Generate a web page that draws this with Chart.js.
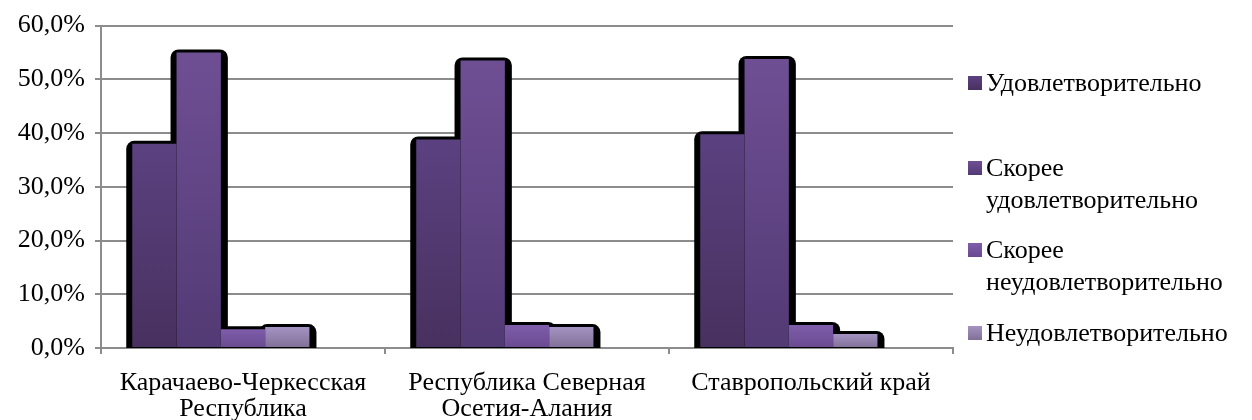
<!DOCTYPE html>
<html lang="ru">
<head>
<meta charset="utf-8">
<script src="https://cdn.jsdelivr.net/npm/chart.js@4/dist/chart.umd.min.js"></script>
<style>
    html, body { margin: 0; padding: 0; background: #fff; }
    #wrap { position: relative; width: 1252px; height: 420px; }
    #legend { position: absolute; left: 0; top: 0; font-family: 'Liberation Serif', 'Times New Roman', serif; font-size: 26px; color: #000; }
    .item { position: absolute; left: 968px; width: 284px; line-height: 32px; padding-left: 18px; box-sizing: border-box; white-space: nowrap; }
    .item i { position: absolute; left: 0; top: 9px; width: 14px; height: 14px; }
</style>
</head>
<body>
<div id="wrap">
    <canvas id="chart" width="1252" height="420"></canvas>
    <div id="legend"></div>
</div>
<script>
const regions = [['Карачаево-Черкесская', 'Республика'], ['Республика Северная', 'Осетия-Алания'], 'Ставропольский край'];
const seriesNames = ['Удовлетворительно', ['Скорее', 'удовлетворительно'], ['Скорее', 'неудовлетворительно'], 'Неудовлетворительно'];
const satisfied = [38.0, 38.8, 39.8];
const ratherSatisfied = [55.0, 53.5, 53.8];
const ratherUnsatisfied = [3.5, 4.3, 4.3];
const unsatisfied = [3.9, 3.9, 2.6];
const yTicks = [0, 10, 20, 30, 40, 50, 60];

const topColors = ['#5b4180', '#6f4f94', '#7e5daa', '#a493c2'];
const bottomColors = ['#48315f', '#523a74', '#694a90', '#807096'];
const legendTops = [67, 152, 234, 317];

// vertical gradient over each bar's own height
function barFill(i) {
    return (c) => {
        const chart = c.chart;
        const y = chart.scales.y;
        if (!chart.chartArea || !y || c.raw == null) return topColors[i];
        const g = chart.ctx.createLinearGradient(0, y.getPixelForValue(c.raw), 0, y.getPixelForValue(0));
        g.addColorStop(0, topColors[i]);
        g.addColorStop(1, bottomColors[i]);
        return g;
    };
}

// black outline-shadow drawn behind all bars
const barShadow = {
    id: 'barShadow',
    beforeDatasetsDraw(chart) {
        const ctx = chart.ctx;
        ctx.save();
        ctx.fillStyle = '#000';
        chart.data.datasets.forEach((ds, i) => {
            chart.getDatasetMeta(i).data.forEach((bar, j) => {
                if (ds.data[j] == null) return;
                const p = bar.getProps(['x', 'y', 'base', 'width'], true);
                ctx.beginPath();
                ctx.roundRect(p.x - p.width / 2 - 6, p.y - 3, p.width + 13, p.base - p.y + 4, [8, 8, 0, 0]);
                ctx.fill();
            });
        });
        ctx.restore();
    }
};

const values = [satisfied, ratherSatisfied, ratherUnsatisfied, unsatisfied];
const datasets = values.map((v, i) => ({
    label: [].concat(seriesNames[i]).join(' '),
    data: v,
    backgroundColor: barFill(i),
    borderWidth: 0
}));
// empty slot Excel leaves after the fourth series
datasets.push({ label: '', data: [null, null, null] });

const font = { family: "'Liberation Serif', 'Times New Roman', serif", size: 26 };

new Chart(document.getElementById('chart'), {
    type: 'bar',
    data: { labels: regions, datasets: datasets },
    options: {
        responsive: false,
        animation: false,
        layout: { padding: { left: 0, right: 299, top: 19, bottom: 0 } },
        datasets: { bar: { categoryPercentage: 0.78, barPercentage: 1 } },
        plugins: { legend: { display: false }, tooltip: { enabled: false } },
        scales: {
            x: {
                afterFit: (s) => { s.height = 72; },
                grid: { drawOnChartArea: false, drawTicks: true, tickLength: 6, color: '#8c8c8c', lineWidth: 2, offset: true },
                border: { color: '#8c8c8c', width: 2 },
                ticks: { color: '#000', font: { ...font, lineHeight: 1.0 }, padding: 16, maxRotation: 0, autoSkip: false }
            },
            y: {
                min: 0,
                max: 60,
                afterFit: (s) => { s.width = 101; },
                afterBuildTicks: (s) => { s.ticks = yTicks.map(v => ({ value: v })); },
                grid: { color: '#8c8c8c', lineWidth: 2, tickLength: 6 },
                border: { color: '#8c8c8c', width: 2 },
                ticks: { color: '#000', font: font, padding: 10, callback: (v) => v.toFixed(1).replace('.', ',') + '%' }
            }
        }
    },
    plugins: [barShadow]
});

// legend with wrapped entries on the right
const legend = document.getElementById('legend');
seriesNames.forEach((name, i) => {
    const el = document.createElement('div');
    el.className = 'item';
    el.style.top = legendTops[i] + 'px';
    const sw = document.createElement('i');
    sw.style.background = 'linear-gradient(' + topColors[i] + ',' + bottomColors[i] + ')';
    el.appendChild(sw);
    [].concat(name).forEach((line, k) => {
        if (k) el.appendChild(document.createElement('br'));
        el.appendChild(document.createTextNode(line));
    });
    legend.appendChild(el);
});
</script>
</body>
</html>
